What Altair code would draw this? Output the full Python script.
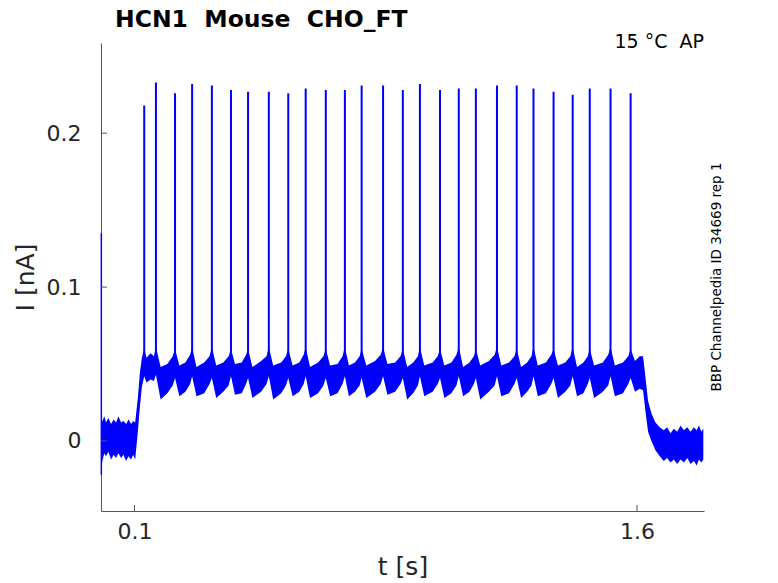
import altair as alt
import pandas as pd

# 27 個動作電位的時間（s）與峰值（nA）
spike_t = [0.129, 0.164, 0.221, 0.272, 0.331, 0.388, 0.439, 0.501, 0.559,
           0.611, 0.671, 0.728, 0.778, 0.842, 0.901, 0.952, 1.012, 1.068,
           1.119, 1.182, 1.241, 1.291, 1.351, 1.408, 1.459, 1.521, 1.581]
spike_peak = [0.218, 0.233, 0.226, 0.232, 0.231, 0.228, 0.227, 0.227, 0.226,
              0.229, 0.228, 0.228, 0.231, 0.231, 0.228, 0.232, 0.228, 0.229,
              0.229, 0.231, 0.231, 0.229, 0.227, 0.225, 0.229, 0.229, 0.226]

# 雜訊帶的上下包絡（t, 下緣, 上緣）
band_t = [0.000, 0.004, 0.010, 0.015, 0.022, 0.030, 0.038, 0.045, 0.052,
          0.060, 0.067, 0.075, 0.082, 0.090, 0.096, 0.102,
          0.110, 0.116, 0.122,
          0.129, 0.136, 0.148, 0.158,
          0.164, 0.178, 0.198, 0.214,
          0.221, 0.234, 0.252, 0.266,
          0.272, 0.285, 0.308, 0.324,
          0.331, 0.344, 0.365, 0.381,
          0.388, 0.400, 0.420, 0.433,
          0.439, 0.452, 0.478, 0.494,
          0.501, 0.514, 0.538, 0.552,
          0.559, 0.572, 0.592, 0.605,
          0.611, 0.624, 0.648, 0.664,
          0.671, 0.684, 0.706, 0.721,
          0.728, 0.740, 0.758, 0.772,
          0.778, 0.792, 0.818, 0.835,
          0.842, 0.855, 0.878, 0.894,
          0.901, 0.914, 0.932, 0.946,
          0.952, 0.965, 0.990, 1.005,
          1.012, 1.025, 1.046, 1.061,
          1.068, 1.081, 1.100, 1.113,
          1.119, 1.132, 1.158, 1.175,
          1.182, 1.195, 1.218, 1.234,
          1.241, 1.254, 1.272, 1.285,
          1.291, 1.304, 1.328, 1.344,
          1.351, 1.364, 1.386, 1.401,
          1.408, 1.421, 1.440, 1.453,
          1.459, 1.472, 1.498, 1.514,
          1.521, 1.534, 1.558, 1.574,
          1.581, 1.594, 1.608, 1.618,
          1.626, 1.633, 1.643, 1.655, 1.668, 1.680, 1.690, 1.700, 1.710,
          1.720, 1.730, 1.740, 1.750, 1.760, 1.770, 1.778, 1.785, 1.792, 1.798]
band_lo = [-0.021, -0.013, -0.008, -0.010, -0.007, -0.012, -0.009, -0.011, -0.008,
           -0.011, -0.009, -0.013, -0.010, -0.012, -0.009, -0.012,
           0.006, 0.022, 0.035,
           0.042, 0.038, 0.040, 0.039,
           0.043, 0.027, 0.031, 0.036,
           0.041, 0.029, 0.032, 0.037,
           0.042, 0.029, 0.031, 0.037,
           0.041, 0.028, 0.032, 0.036,
           0.042, 0.030, 0.031, 0.037,
           0.041, 0.028, 0.032, 0.037,
           0.042, 0.027, 0.031, 0.036,
           0.041, 0.029, 0.032, 0.037,
           0.042, 0.028, 0.031, 0.036,
           0.041, 0.029, 0.031, 0.037,
           0.042, 0.029, 0.032, 0.036,
           0.041, 0.028, 0.032, 0.037,
           0.042, 0.030, 0.032, 0.037,
           0.041, 0.027, 0.031, 0.036,
           0.042, 0.029, 0.032, 0.037,
           0.041, 0.028, 0.031, 0.036,
           0.042, 0.029, 0.032, 0.037,
           0.041, 0.027, 0.032, 0.036,
           0.042, 0.029, 0.031, 0.037,
           0.041, 0.028, 0.032, 0.036,
           0.042, 0.029, 0.031, 0.037,
           0.041, 0.028, 0.032, 0.036,
           0.042, 0.029, 0.031, 0.037,
           0.041, 0.028, 0.032, 0.036,
           0.042, 0.029, 0.031, 0.037,
           0.041, 0.032, 0.034, 0.033,
           0.018, 0.006, 0.000, -0.006, -0.010, -0.013, -0.011, -0.014, -0.012,
           -0.015, -0.012, -0.014, -0.011, -0.015, -0.013, -0.016, -0.012, -0.014,
           -0.012]
band_hi = [0.010, 0.013, 0.016, 0.012, 0.015, 0.011, 0.014, 0.012, 0.016,
           0.012, 0.013, 0.011, 0.014, 0.011, 0.013, 0.012,
           0.028, 0.044, 0.054,
           0.060, 0.054, 0.057, 0.055,
           0.061, 0.048, 0.050, 0.055,
           0.060, 0.049, 0.051, 0.056,
           0.061, 0.048, 0.051, 0.055,
           0.061, 0.049, 0.051, 0.055,
           0.060, 0.050, 0.051, 0.056,
           0.060, 0.048, 0.052, 0.055,
           0.061, 0.049, 0.051, 0.055,
           0.060, 0.049, 0.051, 0.056,
           0.061, 0.048, 0.051, 0.055,
           0.060, 0.049, 0.050, 0.055,
           0.061, 0.049, 0.051, 0.055,
           0.060, 0.049, 0.052, 0.056,
           0.061, 0.050, 0.051, 0.055,
           0.060, 0.048, 0.051, 0.055,
           0.061, 0.049, 0.051, 0.055,
           0.060, 0.049, 0.051, 0.056,
           0.061, 0.048, 0.051, 0.055,
           0.060, 0.049, 0.052, 0.056,
           0.061, 0.049, 0.051, 0.055,
           0.060, 0.048, 0.051, 0.055,
           0.061, 0.049, 0.051, 0.056,
           0.060, 0.049, 0.051, 0.055,
           0.061, 0.048, 0.051, 0.055,
           0.060, 0.049, 0.051, 0.056,
           0.061, 0.049, 0.051, 0.055,
           0.060, 0.052, 0.055, 0.055,
           0.040, 0.026, 0.018, 0.012, 0.009, 0.007, 0.009, 0.005, 0.008,
           0.006, 0.010, 0.007, 0.009, 0.006, 0.009, 0.007, 0.010, 0.006,
           0.008]

# 開頭的電容暫態
transient_t = [0.001]
transient_lo = [-0.022]
transient_hi = [0.135]

x_ticks = [0.1, 1.6]
y_ticks = [0, 0.1, 0.2]

BLUE = "#0000ff"
AXIS_GRAY = "#555555"
W, H = 603, 468
SPIKE_BASE = 0.052

x_scale = alt.Scale(domain=[0, 1.8], nice=False, zero=False)
y_scale = alt.Scale(domain=[-0.0455, 0.2586], nice=False, zero=False)

band_df = pd.DataFrame({"t": band_t, "lo": band_lo, "hi": band_hi})
spike_df = pd.DataFrame({"t": spike_t, "peak": spike_peak})
spike_df["base"] = SPIKE_BASE
trans_df = pd.DataFrame({"t": transient_t, "lo": transient_lo, "hi": transient_hi})

band = (
    alt.Chart(band_df)
    .mark_area(color=BLUE, opacity=1)
    .encode(
        x=alt.X("t:Q", scale=x_scale,
                axis=alt.Axis(values=x_ticks, title="t [s]", format="~g")),
        y=alt.Y("hi:Q", scale=y_scale,
                axis=alt.Axis(values=y_ticks, title="I [nA]", format="~g")),
        y2="lo:Q",
    )
)

spikes = (
    alt.Chart(spike_df)
    .mark_rule(color=BLUE, strokeWidth=2)
    .encode(x="t:Q", y="base:Q", y2="peak:Q")
)

transient = (
    alt.Chart(trans_df)
    .mark_rule(color=BLUE, strokeWidth=1.5)
    .encode(x="t:Q", y="lo:Q", y2="hi:Q")
)

# MATLAB 風格的向內刻度
x_tick_marks = (
    alt.Chart(pd.DataFrame({"v": x_ticks}))
    .mark_rule(color=AXIS_GRAY, strokeWidth=1)
    .encode(x="v:Q", y=alt.value(H), y2=alt.value(H - 6))
)
y_tick_marks = (
    alt.Chart(pd.DataFrame({"v": y_ticks}))
    .mark_rule(color=AXIS_GRAY, strokeWidth=1)
    .encode(y="v:Q", x=alt.value(0), x2=alt.value(6))
)

title_label = (
    alt.Chart(pd.DataFrame({"s": ["HCN1\u00a0 Mouse\u00a0 CHO_FT"]}))
    .mark_text(align="left", baseline="alphabetic", fontSize=23.5,
               fontWeight="bold", font="DejaVu Sans", color="#000000")
    .encode(text="s:N", x=alt.value(14), y=alt.value(-16))
)
temp_label = (
    alt.Chart(pd.DataFrame({"s": ["15 °C\u00a0 AP"]}))
    .mark_text(align="right", baseline="alphabetic", fontSize=19,
               font="DejaVu Sans", color="#000000")
    .encode(text="s:N", x=alt.value(W), y=alt.value(5))
)
id_label = (
    alt.Chart(pd.DataFrame({"s": ["BBP Channelpedia ID 34669 rep 1"]}))
    .mark_text(align="center", baseline="middle", angle=270, fontSize=13.5,
               font="DejaVu Sans", color="#000000")
    .encode(text="s:N", x=alt.value(W + 13), y=alt.value(H / 2))
)

chart = (
    alt.layer(band, spikes, transient, x_tick_marks, y_tick_marks,
              title_label, temp_label, id_label)
    .properties(
        width=W,
        height=H,
        autosize=alt.AutoSizeParams(type="none"),
        padding={"left": 93, "top": 35, "right": 40, "bottom": 70},
    )
    .configure_view(stroke=None)
    .configure_axis(
        ticks=False,
        grid=False,
        domainColor=AXIS_GRAY,
        domainWidth=1,
        labelFont="DejaVu Sans",
        labelFontSize=22,
        labelColor="#262626",
        titleFont="DejaVu Sans",
        titleFontSize=25,
        titleFontWeight="normal",
        titleColor="#262626",
    )
    .configure_axisY(labelPadding=20, titlePadding=8)
    .configure_axisX(labelPadding=10, titlePadding=12)
)

chart.save("out.html", embed_options={"renderer": "svg", "actions": False})
